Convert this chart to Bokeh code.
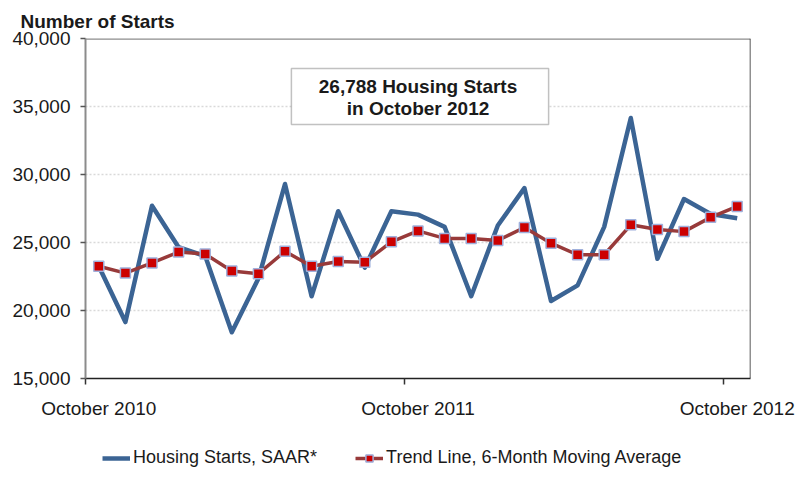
from bokeh.plotting import figure
from bokeh.layouts import column
from bokeh.models import (Range1d, FixedTicker, NumeralTickFormatter, Span, BoxAnnotation,
                          Label, Legend, LegendItem, ColumnDataSource)
from bokeh.embed import file_html
from bokeh.resources import INLINE

# ---------------- data ----------------
months = ["Oct 2010", "Nov 2010", "Dec 2010", "Jan 2011", "Feb 2011", "Mar 2011", "Apr 2011",
          "May 2011", "Jun 2011", "Jul 2011", "Aug 2011", "Sep 2011", "Oct 2011", "Nov 2011",
          "Dec 2011", "Jan 2012", "Feb 2012", "Mar 2012", "Apr 2012", "May 2012", "Jun 2012",
          "Jul 2012", "Aug 2012", "Sep 2012", "Oct 2012"]
starts = [23250, 19150, 27700, 24650, 24000, 18400, 22350, 29300, 21050, 27300, 23150, 27300,
          27050, 26150, 21050, 26250, 29000, 20700, 21850, 26150, 34150, 23800, 28200, 27100, 26788]
trend = [23250, 22750, 23500, 24300, 24150, 22900, 22700, 24350, 23250, 23600, 23550, 25050,
         25850, 25300, 25300, 25150, 26100, 24950, 24100, 24100, 26300, 25950, 25800, 26850, 27650]
tick_months = [0, 12, 24]
tick_labels = ["October 2010", "October 2011", "October 2012"]
y_ticks = [15000, 20000, 25000, 30000, 35000, 40000]

FONT = "Liberation Sans"
BLUE = "#3b6494"
RED_LINE = "#983a3a"
RED_FILL = "#cc0000"
MARK_EDGE = "#9fb0dc"

x = [i + 0.5 for i in range(len(months))]
src = ColumnDataSource(dict(x=x, month=months, starts=starts, trend=trend))

p = figure(width=802, height=430, x_range=Range1d(0, len(months)), y_range=Range1d(15000, 40000),
           output_backend="svg", toolbar_location=None,
           min_border_left=85, min_border_right=52, min_border_top=38, min_border_bottom=52)
p.outline_line_color = None
p.background_fill_color = "white"
p.border_fill_color = "white"

# title (axis caption at top-left)
p.title.text = "Number of Starts"
p.title.align = "left"
p.title.offset = -65
p.title.standoff = 12
p.title.vertical_align = "middle"
p.title.text_font = FONT
p.title.text_font_size = "19px"
p.title.text_font_style = "bold"
p.title.text_color = "#1a1a1a"

# grid
p.xgrid.visible = False
p.ygrid.ticker = FixedTicker(ticks=y_ticks)
p.ygrid.grid_line_color = "#d9d9d9"
p.ygrid.grid_line_dash = "2 2"
p.ygrid.grid_line_width = 1.5

# y axis
yax = p.yaxis[0]
yax.ticker = FixedTicker(ticks=y_ticks)
yax.formatter = NumeralTickFormatter(format="0,0")
yax.major_label_text_font = FONT
yax.major_label_text_font_size = "19px"
yax.major_label_text_color = "#1a1a1a"
yax.major_tick_out = 5
yax.major_tick_in = 0
yax.minor_tick_line_color = None
yax.axis_line_color = "#8c8c8c"
yax.axis_line_width = 2
yax.major_tick_line_color = "#555555"
yax.major_tick_line_width = 1.5
yax.major_label_standoff = 10

# x axis: labels centred on months, tick marks at month boundaries
xax = p.xaxis[0]
xax.ticker = FixedTicker(ticks=[m + 0.5 for m in tick_months], minor_ticks=tick_months)
xax.major_label_overrides = {m + 0.5: lab for m, lab in zip(tick_months, tick_labels)}
xax.major_tick_line_color = None
xax.major_tick_out = 0
xax.major_tick_in = 0
xax.minor_tick_out = 6
xax.minor_tick_in = 0
xax.minor_tick_line_color = "#333333"
xax.minor_tick_line_width = 1.5
xax.axis_line_color = "#222222"
xax.axis_line_width = 1.5
xax.major_label_text_font = FONT
xax.major_label_text_font_size = "19px"
xax.major_label_text_color = "#1a1a1a"
xax.major_label_standoff = 13

# frame borders (top gray, right dark)
p.add_layout(Span(location=40000, dimension="width", line_color="#8c8c8c", line_width=2.5))
p.add_layout(Span(location=len(months), dimension="height", line_color="#222222", line_width=1.5))

# series
l1 = p.line("x", "starts", source=src, line_color=BLUE, line_width=4.5, line_join="round")
l2 = p.line("x", "trend", source=src, line_color=RED_LINE, line_width=3.5, line_join="round")
s2 = p.scatter("x", "trend", source=src, marker="square", size=10, fill_color=RED_FILL,
               line_color=MARK_EDGE, line_width=1.5)

# callout box
p.add_layout(BoxAnnotation(left=7.74, right=17.41, top=37790, bottom=33680, fill_color="white",
                           fill_alpha=1.0, line_color="#333333", line_width=1.5))
p.add_layout(Label(x=12.5, y=36470, text="26,788 Housing Starts", text_align="center",
                   text_baseline="middle", text_font=FONT, text_font_style="bold",
                   text_font_size="19px", text_color="#1a1a1a"))
p.add_layout(Label(x=12.5, y=34850, text="in October 2012", text_align="center",
                   text_baseline="middle", text_font=FONT, text_font_style="bold",
                   text_font_size="19px", text_color="#1a1a1a"))

# legend strip below the chart: same series drawn with the same styles, kept out of view
lg = figure(width=802, height=47, x_range=Range1d(0, len(months)), y_range=Range1d(0, 1),
            output_backend="svg", toolbar_location=None, min_border=0)
lg.axis.visible = False
lg.grid.visible = False
lg.outline_line_color = None
k1 = lg.line("x", "starts", source=src, line_color=BLUE, line_width=4.5)
k2 = lg.line("x", "trend", source=src, line_color=RED_LINE, line_width=3.5)
k3 = lg.scatter("x", "trend", source=src, marker="square", size=10, fill_color=RED_FILL,
                line_color=MARK_EDGE, line_width=1.5)
legend = Legend(items=[LegendItem(label="Housing Starts, SAAR*", renderers=[k1]),
                       LegendItem(label="Trend Line, 6-Month Moving Average", renderers=[k2, k3])],
                location=(17, 9), orientation="horizontal", padding=0, margin=0, spacing=38,
                glyph_width=28, glyph_height=18, label_standoff=3, label_height=18,
                label_text_font=FONT, label_text_font_size="18px", label_text_color="#1a1a1a",
                border_line_color=None, background_fill_alpha=0)
lg.add_layout(legend)

layout = column(p, lg, spacing=0)
open("out.html", "w").write(file_html(layout, INLINE))
